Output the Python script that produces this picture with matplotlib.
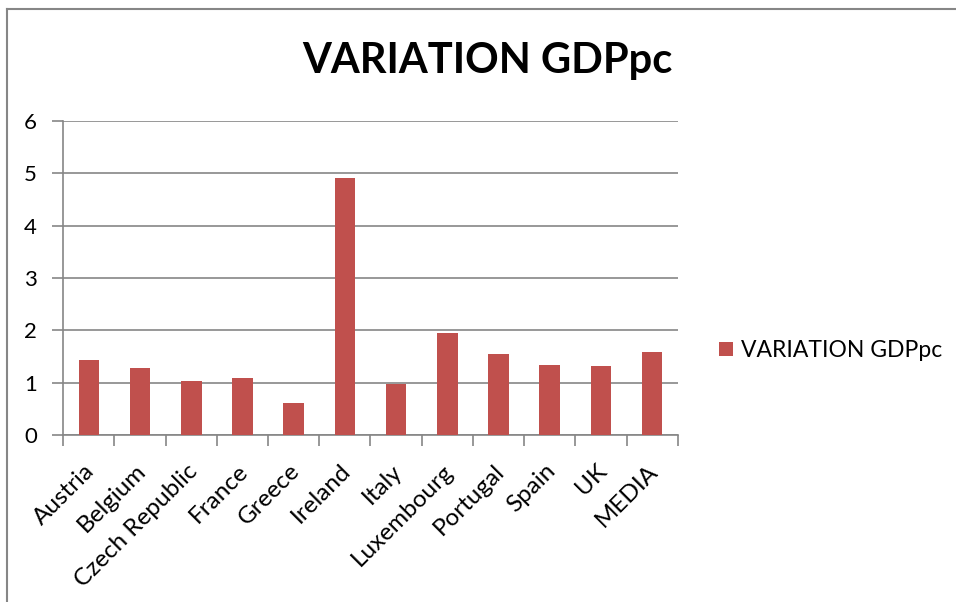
import matplotlib
matplotlib.use("Agg")
import matplotlib.pyplot as plt
import matplotlib.transforms as mtransforms
from matplotlib.lines import Line2D
from matplotlib.patches import Patch

plt.rcParams['font.family'] = ['Lato', 'DejaVu Sans']

countries = ["Austria", "Belgium", "Czech Republic", "France", "Greece", "Ireland",
             "Italy", "Luxembourg", "Portugal", "Spain", "UK", "MEDIA"]
variation_gdppc = [1.43, 1.28, 1.04, 1.09, 0.61, 4.91, 0.97, 1.96, 1.56, 1.34, 1.32, 1.59]
y_ticks = [0, 1, 2, 3, 4, 5, 6]
series_name = "VARIATION GDPpc"

bar_color = "#C0504D"
grid_color = "#868686"

fig = plt.figure(figsize=(9.56, 6.02), dpi=100)
ax = fig.add_axes([0.0662, 0.2769, 0.6427, 0.5226])

x = list(range(len(countries)))
ax.bar(x, variation_gdppc, width=0.40, color=bar_color, zorder=3)

ax.set_xlim(-0.5, len(countries) - 0.5)
ax.set_ylim(0, 6)
ax.set_yticks(y_ticks)
ax.set_yticklabels([str(t) for t in y_ticks], fontsize=16)
ax.yaxis.grid(True, color=grid_color, linewidth=1.2, zorder=0)

# category boundaries carry the x tick marks; labels sit at centres
ax.set_xticks([i - 0.5 for i in range(len(countries) + 1)])
ax.set_xticklabels([])
ax.set_xticks(x, minor=True)
ax.set_xticklabels(countries, minor=True, rotation=45, ha='right', va='top',
                   rotation_mode='anchor', fontsize=17.5)
ax.tick_params(axis='x', which='minor', length=0, pad=0)
ax.tick_params(axis='x', which='major', length=8, width=1.2, color=grid_color, direction='out')
ax.tick_params(axis='y', length=8, width=1.2, color=grid_color, pad=11)

shift = mtransforms.ScaledTranslation(-0.05, -0.25, fig.dpi_scale_trans)
for lbl in ax.get_xticklabels(minor=True):
    lbl.set_transform(lbl.get_transform() + shift)

for side in ['top', 'right']:
    ax.spines[side].set_visible(False)
for side in ['left', 'bottom']:
    ax.spines[side].set_color(grid_color)
    ax.spines[side].set_linewidth(1.2)

fig.text(0.510, 0.899, series_name, ha='center', va='center', fontsize=30,
         fontweight='bold')

handle = Patch(facecolor=bar_color, edgecolor='none')
fig.legend([handle], [series_name], loc='center left',
           bbox_to_anchor=(0.752, 0.418), frameon=False, fontsize=16.5,
           handlelength=0.6, handleheight=0.6, handletextpad=0.35,
           borderpad=0, borderaxespad=0)

# chart frame on the left and top
fig.add_artist(Line2D([0.0078, 0.0078], [0.0, 0.985], transform=fig.transFigure,
                      color=grid_color, linewidth=1.5))
fig.add_artist(Line2D([0.0078, 1.0], [0.985, 0.985], transform=fig.transFigure,
                      color=grid_color, linewidth=1.5))

fig.savefig("out.png", dpi=100)
